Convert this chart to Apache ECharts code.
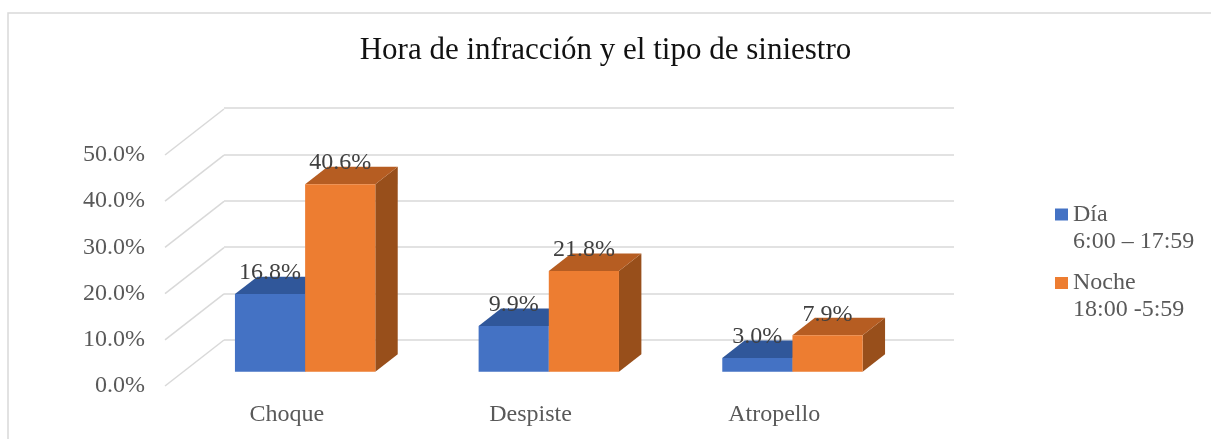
<!DOCTYPE html>
<html>
<head>
<meta charset="utf-8">
<script src="https://cdn.jsdelivr.net/npm/echarts@6/dist/echarts.min.js"></script>
<style>
html, body { margin: 0; padding: 0; background: #fff; }
#chart { width: 1211px; height: 439px; }
</style>
</head>
<body>
<div id="chart"></div>
<script>
// datos del gráfico
var categories = ['Choque', 'Despiste', 'Atropello'];
var seriesNames = ['Día', 'Noche'];
var seriesRanges = ['6:00 – 17:59', '18:00 -5:59'];
var diaValues = [16.8, 9.9, 3.0];
var nocheValues = [40.6, 21.8, 7.9];
var yTicks = [0, 10, 20, 30, 40, 50];

// efecto 3D: desplazamiento entre la pared frontal y la de fondo
var DX = 59, DY = 46;
var FRONT = 0.31, DEPTH = 0.38;
var BAR = 0.288;
var FONT = '"Liberation Serif", "Times New Roman", serif';

var colors = [
    {front: '#4472c4', top: '#30579a', side: '#2c4f8c'},
    {front: '#ed7d31', top: '#b65d22', side: '#984f1b'}
];

// caja 3D de cada barra, dibujada con las escalas del eje
function boxItem(s) {
    return function (params, api) {
        var c = api.value(0), v = api.value(1);
        var bw = api.size([1, 0])[0] * BAR;
        var p0 = api.coord([c, 0]), p1 = api.coord([c, v]);
        var x0 = p0[0] + (s === 0 ? -bw : 0) + DX * FRONT;
        var x1 = x0 + bw;
        var yb = p0[1] - DY * FRONT, yt = p1[1] - DY * FRONT;
        var dx = DX * DEPTH, dy = DY * DEPTH;
        var col = colors[s];
        return {
            type: 'group',
            children: [
                {type: 'polygon', shape: {points: [[x1, yt], [x1, yb], [x1 + dx, yb - dy], [x1 + dx, yt - dy]]}, style: {fill: col.side}},
                {type: 'polygon', shape: {points: [[x0, yt], [x1, yt], [x1 + dx, yt - dy], [x0 + dx, yt - dy]]}, style: {fill: col.top}},
                {type: 'rect', shape: {x: x0, y: yt, width: bw, height: yb - yt}, style: {fill: col.front}},
                {type: 'text', x: (x0 + x1) / 2, y: yt - 21, style: {
                    text: v.toFixed(1) + '%', align: 'center', verticalAlign: 'middle',
                    fontSize: 24, fontFamily: FONT, fill: '#404040'
                }}
            ]
        };
    };
}

// líneas diagonales de la pared lateral
function diagItem(params, api) {
    var y = api.coord([0, api.value(1)])[1];
    var x = params.coordSys.x;
    return {
        type: 'line',
        shape: {x1: x, y1: y, x2: x + DX, y2: y - DY},
        style: {stroke: '#d9d9d9', lineWidth: 1.5}
    };
}

function pairs(arr) {
    return arr.map(function (v, i) { return [i, v]; });
}

var chart = echarts.init(document.getElementById('chart'));
chart.setOption({
    animation: false,
    backgroundColor: '#fff',
    title: {
        text: 'Hora de infracción y el tipo de siniestro',
        left: 'center',
        top: 30,
        textStyle: {fontSize: 31, fontFamily: FONT, fontWeight: 'normal', color: '#111'}
    },
    legend: {
        orient: 'vertical',
        left: 1055,
        top: 174,
        padding: 0,
        itemGap: -12.5,
        itemWidth: 13,
        itemHeight: 12,
        icon: 'rect',
        data: seriesNames,
        // línea vacía arriba para que el nombre quede a la altura del cuadro
        formatter: function (name) {
            return '{t|\u00a0}\n{t|' + name + '}\n{t|' + seriesRanges[seriesNames.indexOf(name)] + '}';
        },
        textStyle: {
            fontSize: 24, fontFamily: FONT, color: '#595959', lineHeight: 27,
            rich: {t: {fontSize: 24, fontFamily: FONT, color: '#595959', lineHeight: 27}}
        }
    },
    graphic: [{
        type: 'rect',
        shape: {x: 8, y: 13, width: 1300, height: 500},
        style: {fill: 'none', stroke: '#d9d9d9', lineWidth: 1.5},
        silent: true
    }],
    grid: [
        // pared de fondo
        {left: 224, right: 257, top: 108, bottom: 99, outerBoundsMode: 'none'},
        // plano frontal
        {left: 165, right: 315, top: 155, bottom: 53, outerBoundsMode: 'none'}
    ],
    xAxis: [
        {gridIndex: 0, type: 'category', data: categories, show: false},
        {
            gridIndex: 1, type: 'category', data: categories,
            axisLine: {show: false}, axisTick: {show: false},
            axisLabel: {margin: 17, fontSize: 24, fontFamily: FONT, color: '#595959'}
        }
    ],
    yAxis: [
        {
            gridIndex: 0, type: 'value', min: 0, max: 50, interval: 10,
            axisLabel: {show: false}, axisLine: {show: false}, axisTick: {show: false},
            splitLine: {lineStyle: {color: '#d9d9d9', width: 1.5}}
        },
        {
            gridIndex: 1, type: 'value', min: 0, max: 50, interval: 10,
            axisLine: {show: false}, axisTick: {show: false}, splitLine: {show: false},
            axisLabel: {
                margin: 20, fontSize: 24, fontFamily: FONT, color: '#595959',
                padding: [4, 0, 0, 0],
                formatter: function (v) { return v.toFixed(1) + '%'; }
            }
        }
    ],
    series: [
        {
            type: 'custom', xAxisIndex: 1, yAxisIndex: 1, silent: true,
            renderItem: diagItem,
            data: yTicks.map(function (v) { return [0, v]; })
        },
        {
            name: seriesNames[0], type: 'custom', xAxisIndex: 1, yAxisIndex: 1,
            itemStyle: {color: colors[0].front},
            renderItem: boxItem(0), data: pairs(diaValues)
        },
        {
            name: seriesNames[1], type: 'custom', xAxisIndex: 1, yAxisIndex: 1,
            itemStyle: {color: colors[1].front},
            renderItem: boxItem(1), data: pairs(nocheValues)
        }
    ]
});
</script>
</body>
</html>
